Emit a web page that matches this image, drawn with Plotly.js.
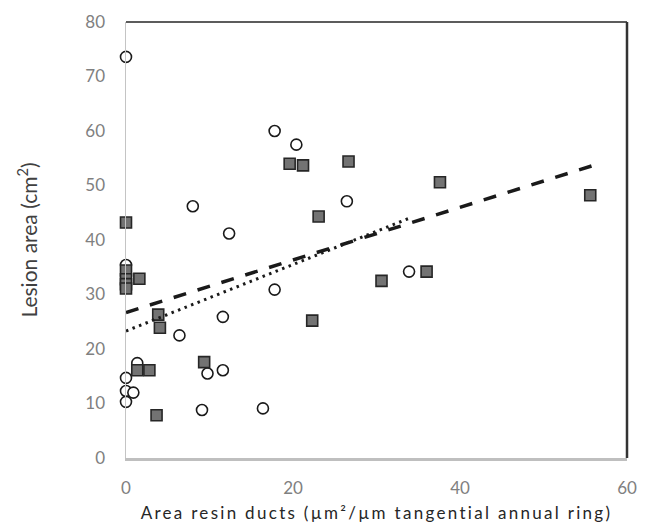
<!DOCTYPE html>
<html>
<head>
<meta charset="utf-8">
<script src="https://cdn.plot.ly/plotly-3.0.1.min.js"></script>
<style>
  html, body { margin: 0; padding: 0; background: #fff; }
  #chart { width: 659px; height: 532px; }
  .xtitle { letter-spacing: 2.3px; }
</style>
</head>
<body>
<div id="chart"></div>
<script>
// Open circles
const circleX = [0, 17.8, 20.4, 8.0, 12.35, 0, 6.4, 11.6, 17.8, 26.45, 33.9, 1.35, 9.76, 11.6, 0, 0, 0.88, 0, 9.1, 16.4];
const circleY = [73.6, 60.0, 57.5, 46.2, 41.2, 35.4, 22.5, 25.9, 30.9, 47.1, 34.2, 17.4, 15.5, 16.1, 14.7, 12.3, 12.0, 10.3, 8.8, 9.1];

// Grey squares
const squareX = [19.6, 21.2, 26.65, 37.6, 23.07, 36.0, 30.6, 0, 0, 0, 0, 0, 1.6, 3.86, 4.06, 1.35, 2.8, 9.36, 3.66, 22.3, 55.6];
const squareY = [54.0, 53.7, 54.4, 50.6, 44.3, 34.2, 32.5, 43.2, 34.4, 32.8, 31.9, 31.1, 32.9, 26.3, 23.9, 16.1, 16.1, 17.6, 7.85, 25.2, 48.2];

// Trend lines (end points)
const trendCircleX = [0, 34.1];
const trendCircleY = [23.3, 44.1];
const trendSquareX = [0, 55.8];
const trendSquareY = [26.7, 53.6];

// Tick labels
const xTicks = [0, 20, 40, 60];
const yTicks = [0, 10, 20, 30, 40, 50, 60, 70, 80];

const traces = [
  {
    x: circleX, y: circleY, type: 'scatter', mode: 'markers', cliponaxis: false,
    marker: { symbol: 'circle', size: 11, color: '#ffffff', line: { color: '#1a1a1a', width: 1.6 } },
    showlegend: false, hoverinfo: 'x+y'
  },
  {
    x: squareX, y: squareY, type: 'scatter', mode: 'markers', cliponaxis: false,
    marker: { symbol: 'square', size: 11, color: '#737373', line: { color: '#262626', width: 1.6 } },
    showlegend: false, hoverinfo: 'x+y'
  },
  {
    x: trendCircleX, y: trendCircleY, type: 'scatter', mode: 'lines',
    line: { color: '#1a1a1a', width: 3, dash: '2.5px,4.5px' },
    showlegend: false, hoverinfo: 'skip'
  },
  {
    x: trendSquareX, y: trendSquareY, type: 'scatter', mode: 'lines',
    line: { color: '#1a1a1a', width: 3.5, dash: '13px,12px' },
    showlegend: false, hoverinfo: 'skip'
  }
];

const layout = {
  width: 659, height: 532,
  margin: { l: 126, r: 32, t: 22, b: 74 },
  paper_bgcolor: '#ffffff', plot_bgcolor: '#ffffff',
  font: { family: 'Lato, "Open Sans", sans-serif', color: '#7f7f7f' },
  xaxis: {
    range: [0, 60], tickvals: xTicks, ticktext: xTicks.map(String),
    showgrid: false, zeroline: false, ticks: '',
    showline: true, linecolor: '#bfbfbf', linewidth: 2.5,
    ticklabelstandoff: 13,
    tickfont: { size: 17, color: '#808080' },
    title: { text: 'Area resin ducts (µm²/µm tangential annual ring)', standoff: 10,
             font: { size: 17, color: '#262626' } }
  },
  yaxis: {
    range: [0, 80], tickvals: yTicks, ticktext: yTicks.map(String),
    showgrid: false, zeroline: false, ticks: '',
    showline: true, linecolor: '#c4c4c4', linewidth: 1.5,
    ticklabelstandoff: 16,
    tickfont: { size: 17, color: '#808080' },
    title: { text: 'Lesion area (cm<sup>2</sup>)', standoff: 42,
             font: { size: 21, color: '#404040' } }
  },
  shapes: [
    { type: 'line', xref: 'paper', yref: 'paper', x0: 0, x1: 1, y0: 1, y1: 1,
      line: { color: '#262626', width: 1.3 } },
    { type: 'line', xref: 'paper', yref: 'paper', x0: 1, x1: 1, y0: 0, y1: 1,
      line: { color: '#333333', width: 2.5 } }
  ]
};

Plotly.newPlot('chart', traces, layout, { displayModeBar: false, staticPlot: true });
</script>
</body>
</html>
